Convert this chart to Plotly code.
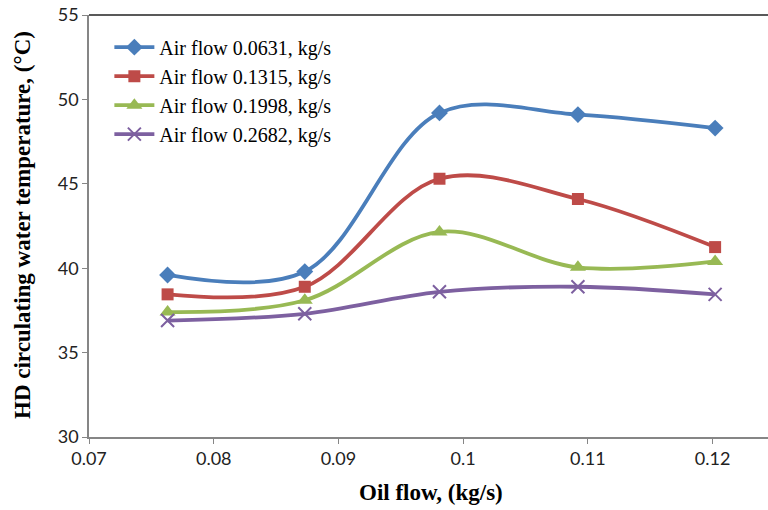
import plotly.graph_objects as go

oil_flow = [0.0763, 0.0873, 0.0981, 0.1092, 0.1202]
series_names = ["Air flow 0.0631, kg/s", "Air flow 0.1315, kg/s",
                "Air flow 0.1998, kg/s", "Air flow 0.2682, kg/s"]
temp_0631 = [39.6, 39.8, 49.2, 49.1, 48.3]
temp_1315 = [38.45, 38.9, 45.3, 44.1, 41.25]
temp_1998 = [37.4, 38.1, 42.15, 40.05, 40.4]
temp_2682 = [36.9, 37.3, 38.6, 38.9, 38.45]

colors = ["#4A7EBB", "#BE4B48", "#98B954", "#7D60A0"]
symbols = ["diamond", "square", "triangle-up", "x-thin"]
sizes = [13, 12, 14, 13]

fig = go.Figure()
for name, ys, c, s, sz in zip(series_names, [temp_0631, temp_1315, temp_1998, temp_2682],
                              colors, symbols, sizes):
    marker = dict(symbol=s, size=sz, color=c)
    if s == "x-thin":
        marker["line"] = dict(color=c, width=2)
    fig.add_trace(go.Scatter(
        x=oil_flow, y=ys, name=name, mode="lines+markers",
        line=dict(color=c, width=3.8, shape="spline", smoothing=1.0),
        marker=marker))

fig.update_layout(
    width=768, height=510,
    margin=dict(l=89, r=0, t=15, b=73),
    paper_bgcolor="white", plot_bgcolor="white",
    showlegend=True,
    legend=dict(x=0.03, y=0.97, xanchor="left", yanchor="top",
                font=dict(family="Liberation Serif", size=20, color="#000"),
                bgcolor="rgba(0,0,0,0)", tracegroupgap=0, itemwidth=40),
    xaxis=dict(range=[0.07, 0.12444], tickvals=[0.07, 0.08, 0.09, 0.1, 0.11, 0.12],
               ticktext=["0.07", "0.08", "0.09", "0.1", "0.11", "0.12"],
               showgrid=False, zeroline=False, showline=True, linecolor="#868686",
               linewidth=1.5, ticks="outside", ticklen=5, tickcolor="#868686",
               tickfont=dict(family="Lato", size=18, color="#222")),
    yaxis=dict(range=[30, 55], tickvals=[30, 35, 40, 45, 50, 55],
               showgrid=False, zeroline=False, showline=True, linecolor="#868686",
               linewidth=1.5, ticks="outside", ticklen=5, tickcolor="#868686",
               tickfont=dict(family="Lato", size=18, color="#222")),
)
fig.add_shape(type="line", xref="paper", yref="paper", x0=0, x1=1, y0=1, y1=1,
              line=dict(color="#222", width=1.5))
fig.add_annotation(text="<b>Oil flow, (kg/s)</b>", xref="paper", yref="paper",
                   x=(431 - 89) / 679, y=-(492 - 437) / 422, showarrow=False,
                   xanchor="center", yanchor="middle",
                   font=dict(family="Liberation Serif", size=23, color="#000"))
fig.add_annotation(text="<b>HD circulating water temperature, (°C)</b>", xref="paper", yref="paper",
                   x=-(89 - 22) / 679, y=(437 - 225) / 422, showarrow=False, textangle=-90,
                   xanchor="center", yanchor="middle",
                   font=dict(family="Liberation Serif", size=23, color="#000"))

fig.write_html("out.html")
